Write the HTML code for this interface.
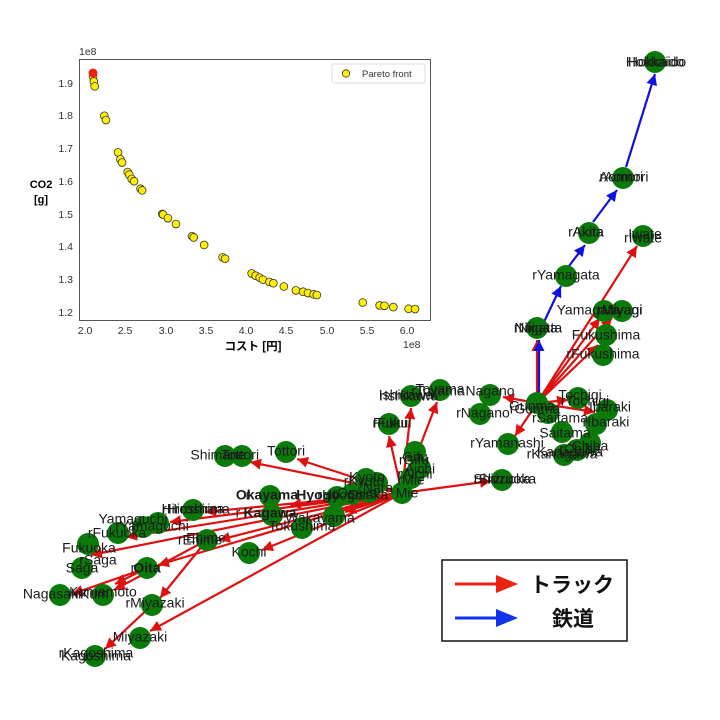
<!DOCTYPE html>
<html><head><meta charset="utf-8"><style>
body{margin:0;background:#fff;}
svg{display:block;font-family:"Liberation Sans","DejaVu Sans","Noto Sans CJK JP",sans-serif;}
.l{font-size:14px;fill:#1a1a1a;text-anchor:middle;dominant-baseline:middle;}
.t{font-size:10.5px;fill:#333;}
</style></head><body>
<svg width="720" height="720" viewBox="0 0 720 720" id="s">
<defs>
<marker id="ar" viewBox="0 0 10 10" refX="10" refY="5" markerWidth="5" markerHeight="5" orient="auto"><path d="M0,0L10,5L0,10z" fill="#e01010"/></marker>
<marker id="ab" viewBox="0 0 10 10" refX="10" refY="5" markerWidth="5" markerHeight="5" orient="auto"><path d="M0,0L10,5L0,10z" fill="#1010e0"/></marker>
</defs>
<rect x="79.5" y="59.5" width="351" height="261" fill="#fff" stroke="#555" stroke-width="1"/>
<g class="t">
<text x="79" y="55">1e8</text>
<text x="403" y="348">1e8</text>
<g text-anchor="end">
<text x="73" y="316">1.2</text><text x="73" y="283">1.3</text><text x="73" y="250">1.4</text><text x="73" y="218">1.5</text><text x="73" y="185">1.6</text><text x="73" y="152">1.7</text><text x="73" y="119">1.8</text><text x="73" y="87">1.9</text>
</g>
<g text-anchor="middle">
<text x="85" y="334">2.0</text><text x="125" y="334">2.5</text><text x="166" y="334">3.0</text><text x="206" y="334">3.5</text><text x="246" y="334">4.0</text><text x="286" y="334">4.5</text><text x="327" y="334">5.0</text><text x="367" y="334">5.5</text><text x="407" y="334">6.0</text>
</g>
</g>
<text x="41" y="188" font-size="11" font-weight="bold" text-anchor="middle">CO2</text>
<text x="41" y="203" font-size="11" font-weight="bold" text-anchor="middle">[g]</text>
<text x="253" y="350" font-size="11.5" font-weight="bold" text-anchor="middle">コスト [円]</text>
<rect x="332" y="64" width="93" height="19" fill="#fff" stroke="#ddd" rx="2"/>
<circle cx="346" cy="73.5" r="3.7" fill="#ffee00" stroke="#333" stroke-width="0.8"/>
<text x="362" y="77" font-size="9.5" fill="#333">Pareto front</text>
<g id="pts" fill="#ffee00" stroke="#333" stroke-width="0.8"></g>
<circle cx="93" cy="73" r="4.5" fill="#ee2211"/>

<g stroke="#e01010" stroke-width="2.2" fill="none" marker-end="url(#ar)">
<line x1="537" y1="403" x2="537" y2="340"/>
<line x1="537" y1="403" x2="600" y2="318"/>
<line x1="537" y1="403" x2="612" y2="318"/>
<line x1="537" y1="403" x2="598" y2="345"/>
<line x1="537" y1="403" x2="637" y2="246"/>
<line x1="537" y1="403" x2="503" y2="397"/>
<line x1="537" y1="403" x2="515" y2="436"/>
<line x1="537" y1="403" x2="568" y2="400"/>
<line x1="537" y1="403" x2="595" y2="412"/>
<line x1="402" y1="493" x2="491" y2="481"/>
<line x1="402" y1="493" x2="389" y2="436"/>
<line x1="402" y1="493" x2="411" y2="408"/>
<line x1="402" y1="493" x2="437" y2="402"/>
<line x1="402" y1="493" x2="297" y2="459"/>
<line x1="402" y1="493" x2="250" y2="462"/>
<line x1="402" y1="493" x2="205" y2="512"/>
<line x1="402" y1="493" x2="170" y2="522"/>
<line x1="402" y1="493" x2="126" y2="537"/>
<line x1="402" y1="493" x2="91" y2="555"/>
<line x1="402" y1="493" x2="219" y2="540"/>
<line x1="402" y1="493" x2="262" y2="550"/>
<line x1="402" y1="493" x2="158" y2="565"/>
<line x1="402" y1="493" x2="150" y2="631"/>
<line x1="402" y1="493" x2="290" y2="505"/>
<line x1="402" y1="493" x2="345" y2="512"/>
<line x1="207" y1="540" x2="114" y2="590"/>
<line x1="207" y1="540" x2="160" y2="598"/>
<line x1="147" y1="568" x2="72" y2="594"/>
<line x1="147" y1="568" x2="115" y2="584"/>
<line x1="152" y1="605" x2="105" y2="649"/>
</g>
<g stroke="#1010e0" stroke-width="2.2" fill="none" marker-end="url(#ab)">
<line x1="539" y1="403" x2="539" y2="340"/>
<line x1="544" y1="322" x2="561" y2="286"/>
<line x1="569" y1="266" x2="585" y2="245"/>
<line x1="593" y1="222" x2="617" y2="190"/>
<line x1="626" y1="167" x2="655" y2="74"/>
</g>

<g fill="#0a7a0a" id="nodes">
<circle cx="655" cy="62" r="11"/><circle cx="623" cy="178" r="11"/><circle cx="589" cy="233" r="11"/><circle cx="643" cy="236" r="11"/><circle cx="566" cy="276" r="11"/>
<circle cx="604" cy="311" r="11"/><circle cx="622" cy="311" r="11"/><circle cx="606" cy="335" r="11"/><circle cx="603" cy="355" r="11"/><circle cx="537" cy="328" r="11"/>
<circle cx="490" cy="395" r="11"/><circle cx="480" cy="414" r="11"/><circle cx="537" cy="403" r="11"/><circle cx="548" cy="413" r="11"/><circle cx="578" cy="398" r="11"/>
<circle cx="607" cy="410" r="11"/><circle cx="596" cy="424" r="11"/><circle cx="562" cy="432" r="11"/><circle cx="508" cy="444" r="11"/><circle cx="590" cy="443" r="11"/>
<circle cx="564" cy="455" r="11"/><circle cx="577" cy="450" r="11"/><circle cx="502" cy="480" r="11"/><circle cx="440" cy="390" r="11"/><circle cx="411" cy="396" r="11"/>
<circle cx="389" cy="424" r="11"/><circle cx="415" cy="452" r="11"/><circle cx="420" cy="468" r="11"/><circle cx="411" cy="478" r="11"/><circle cx="402" cy="493" r="11"/>
<circle cx="366" cy="479" r="11"/><circle cx="377" cy="483" r="11"/><circle cx="369" cy="492" r="11"/><circle cx="352" cy="494" r="11"/><circle cx="337" cy="497" r="11"/>
<circle cx="270" cy="496" r="11"/><circle cx="272" cy="515" r="11"/><circle cx="334" cy="516" r="11"/><circle cx="302" cy="528" r="11"/><circle cx="286" cy="452" r="11"/>
<circle cx="242" cy="456" r="11"/><circle cx="225" cy="456" r="11"/><circle cx="193" cy="510" r="11"/><circle cx="158" cy="523" r="11"/><circle cx="143" cy="527" r="11"/><circle cx="207" cy="540" r="11"/>
<circle cx="249" cy="553" r="11"/><circle cx="118" cy="533" r="11"/><circle cx="88" cy="544" r="11"/><circle cx="82" cy="568" r="11"/><circle cx="147" cy="568" r="11"/>
<circle cx="60" cy="595" r="11"/><circle cx="103" cy="595" r="11"/><circle cx="152" cy="605" r="11"/><circle cx="140" cy="638" r="11"/><circle cx="95" cy="656" r="11"/>
</g>

<g class="l">
<text x="655" y="63">Hokkaido</text><text x="657" y="63">Hokkaido</text>
<text x="621" y="178">Aomori</text><text x="624" y="178">rAomori</text>
<text x="588" y="233">Akita</text><text x="586" y="233">rAkita</text>
<text x="645" y="235">Iwate</text><text x="643" y="239">rIwate</text>
<text x="566" y="276">rYamagata</text>
<text x="588" y="311">Yamagata</text><text x="622" y="311">Miyagi</text><text x="620" y="311">rMiyagi</text>
<text x="606" y="336">Fukushima</text><text x="603" y="355">rFukushima</text>
<text x="536" y="329">Niigata</text><text x="538" y="329">rNiigata</text>
<text x="490" y="392">Nagano</text><text x="483" y="414">rNagano</text>
<text x="532" y="407">Gunma</text><text x="535" y="410">rGunma</text>
<text x="580" y="396">Tochigi</text><text x="585" y="402">rTochigi</text>
<text x="610" y="408">Ibaraki</text><text x="606" y="423">rIbaraki</text>
<text x="560" y="419">rSaitama</text><text x="565" y="434">Saitama</text>
<text x="507" y="444">rYamanashi</text>
<text x="590" y="447">Chiba</text><text x="580" y="450">rChiba</text>
<text x="562" y="455">rKanagawa</text><text x="570" y="453">Kanagawa</text>
<text x="502" y="480">Shizuoka</text><text x="505" y="480">rShizuoka</text>
<text x="440" y="390">Toyama</text><text x="438" y="392">rToyama</text>
<text x="406" y="396">Ishikawa</text><text x="409" y="397">rIshikawa</text>
<text x="390" y="424">Fukui</text><text x="392" y="424">rFukui</text>
<text x="415" y="458">Gifu</text><text x="414" y="461">rGifu</text>
<text x="420" y="470">Aichi</text><text x="415" y="475">rAichi</text>
<text x="411" y="481">rMie</text><text x="407" y="494">Mie</text>
<text x="367" y="478">Kyoto</text><text x="364" y="482">rKyoto</text>
<text x="378" y="489">Nara</text><text x="355" y="494">rOsaka</text><text x="368" y="496">Osaka</text>
<text x="318" y="496" font-weight="bold">Hyogo</text><text x="340" y="496">rHyogo</text>
<text x="267" y="496" font-weight="bold">Okayama</text><text x="248" y="496">r</text>
<text x="270" y="514" font-weight="bold">Kagawa</text><text x="238" y="514">r</text>
<text x="320" y="519">Wakayama</text><text x="302" y="527">Tokushima</text>
<text x="286" y="452">Tottori</text><text x="240" y="456">Tottori</text><text x="218" y="456">Shimane</text>
<text x="193" y="510">Hiroshima</text><text x="196" y="510">rHiroshima</text>
<text x="133" y="520">Yamaguchi</text><text x="152" y="527">rYamaguchi</text>
<text x="206" y="539">Ehime</text><text x="200" y="541">rEhime</text>
<text x="249" y="553">Kochi</text>
<text x="117" y="534">rFukuoka</text><text x="89" y="549">Fukuoka</text>
<text x="98" y="561">rSaga</text><text x="82" y="569">Saga</text>
<text x="147" y="569" font-weight="bold">Oita</text><text x="133" y="569">r</text>
<text x="52" y="595">Nagasaki</text><text x="103" y="593">Kumamoto</text><text x="92" y="595">rKum</text>
<text x="155" y="604">rMiyazaki</text><text x="140" y="638">Miyazaki</text>
<text x="96" y="654">rKagoshima</text><text x="96" y="657">Kagoshima</text>
</g>

<rect x="442" y="560" width="185" height="81" fill="#fff" stroke="#111" stroke-width="1.5"/>
<line x1="455" y1="584" x2="500" y2="584" stroke="#ee2211" stroke-width="3"/>
<path d="M496,575L518,584L496,593z" fill="#ee2211"/>
<line x1="455" y1="618" x2="500" y2="618" stroke="#1133ee" stroke-width="3"/>
<path d="M496,609L518,618L496,627z" fill="#1133ee"/>
<text x="530" y="592" font-size="21" font-weight="bold" fill="#111">トラック</text>
<text x="552" y="626" font-size="21" font-weight="bold" fill="#111">鉄道</text>
</svg>
<script>
var d=[[2.10,1.92],[2.11,1.905],[2.12,1.89],[2.24,1.80],[2.26,1.787],[2.41,1.688],[2.44,1.667],[2.46,1.657],[2.53,1.628],[2.55,1.62],[2.58,1.607],[2.61,1.60],[2.69,1.577],[2.71,1.572],[2.96,1.50],[2.97,1.498],[3.03,1.487],[3.13,1.469],[3.33,1.432],[3.35,1.428],[3.48,1.405],[3.71,1.367],[3.74,1.363],[4.07,1.318],[4.12,1.311],[4.17,1.305],[4.21,1.299],[4.29,1.292],[4.34,1.288],[4.47,1.278],[4.62,1.266],[4.71,1.262],[4.77,1.258],[4.84,1.254],[4.88,1.252],[5.45,1.229],[5.66,1.22],[5.72,1.219],[5.83,1.215],[6.02,1.21],[6.10,1.209]];
var g=document.getElementById('pts'),h='';
d.forEach(function(p){h+='<circle cx="'+(85+(p[0]-2)*80.5)+'" cy="'+(312-(p[1]-1.2)*327)+'" r="3.9"/>';});
g.innerHTML=h;
</script>
</body></html>
